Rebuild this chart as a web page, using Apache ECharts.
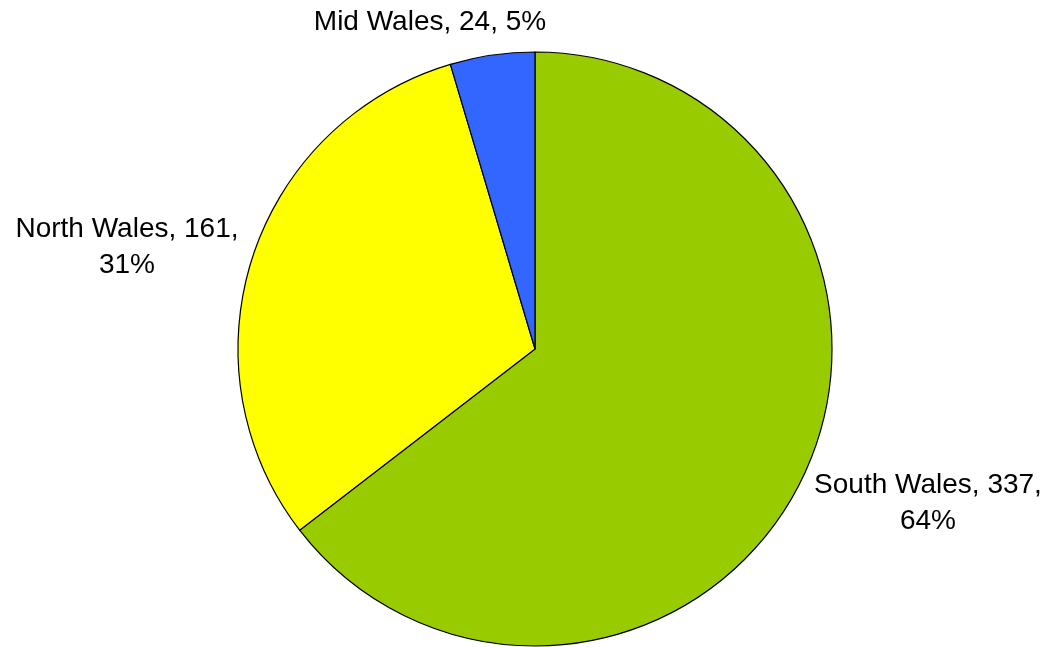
<!DOCTYPE html>
<html>
<head>
<meta charset="utf-8">
<script src="https://cdn.jsdelivr.net/npm/echarts@6/dist/echarts.min.js"></script>
<style>
  html, body { margin: 0; padding: 0; background: #fff; }
  #chart { width: 1048px; height: 647px; }
</style>
</head>
<body>
<div id="chart"></div>
<script>
const regions = ['South Wales', 'North Wales', 'Mid Wales'];
const counts = [337, 161, 24];
const colours = ['#99CC00', '#FFFF00', '#3366FF'];
// single-line labels are kept on one line, others break after the value
const oneLine = ['Mid Wales'];
// label anchor (centre of text block) for each region
const labelSpots = {
  'South Wales': [928, 503],
  'North Wales': [127, 247],
  'Mid Wales': [430, 22]
};

const chart = echarts.init(document.getElementById('chart'));

const option = {
  animation: false,
  series: [
    {
      type: 'pie',
      center: [535, 349],
      radius: 297,
      startAngle: 90,
      clockwise: true,
      percentPrecision: 0,
      data: regions.map((name, i) => ({
        name: name,
        value: counts[i],
        itemStyle: { color: colours[i] }
      })),
      itemStyle: {
        borderColor: '#000',
        borderWidth: 1.2
      },
      label: {
        show: true,
        position: 'outside',
        fontFamily: 'Liberation Sans, Arial, sans-serif',
        fontSize: 28,
        color: '#000',
        lineHeight: 36,
        align: 'center',
        overflow: 'none',
        formatter: (p) => oneLine.includes(p.name)
          ? p.name + ', ' + p.value + ', ' + p.percent + '%'
          : p.name + ', ' + p.value + ',\n' + p.percent + '%'
      },
      labelLayout: (params) => {
        const spot = labelSpots[regions[params.dataIndex]];
        return { x: spot[0], y: spot[1], align: 'center', verticalAlign: 'middle', width: 400 };
      },
      labelLine: { show: false },
      emphasis: { disabled: true }
    }
  ]
};

chart.setOption(option);
</script>
</body>
</html>
